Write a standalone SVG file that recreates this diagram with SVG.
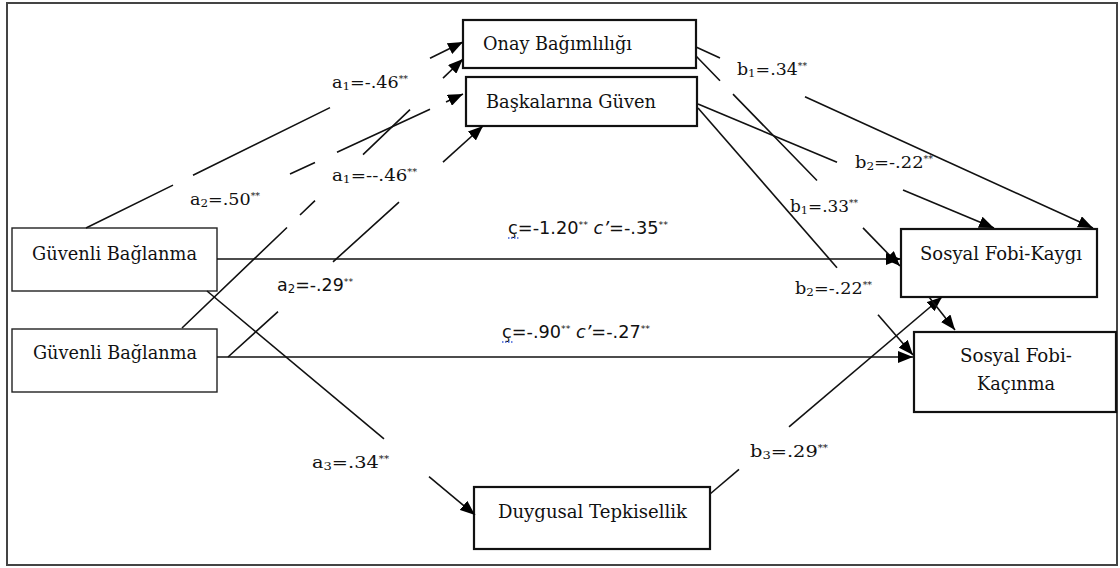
<svg xmlns="http://www.w3.org/2000/svg" width="1120" height="568" viewBox="0 0 1120 568">
<defs>
<marker id="ah" markerUnits="userSpaceOnUse" markerWidth="16" markerHeight="12" refX="15" refY="6" orient="auto"><path d="M0,0 L15,6 L0,12 z" fill="#000"/></marker>
<style>
.frame{fill:#fff;stroke:#444;stroke-width:2}
.box{fill:#fff;stroke:#111;stroke-width:2.2}
.box2{fill:#fff;stroke:#222;stroke-width:1.4}
.ln{stroke:#111;stroke-width:1.6;fill:none}
.ar{marker-end:url(#ah)}
.nt{font-family:"DejaVu Serif",serif;font-size:18.5px;fill:#111}
.lb{font-family:"DejaVu Serif",serif;font-size:17px;fill:#111}
.ls{font-family:"DejaVu Sans",sans-serif;font-size:17px;fill:#111}
.sub{font-size:11.5px}
.sup{font-size:9px}
.sq{stroke:#3b5fd9;stroke-width:1.3;stroke-dasharray:1.5 1.5}
</style>
</defs>
<rect class="frame" x="7" y="3" width="1110" height="562"/>

<g id="node-onay"><rect class="box" x="463" y="20" width="233" height="48"/><text class="nt" x="483" y="50" textLength="149" lengthAdjust="spacingAndGlyphs">Onay Bağımlılığı</text></g>
<g id="node-baskalarina"><rect class="box" x="466" y="77" width="231" height="49"/><text class="nt" x="486" y="108" textLength="170" lengthAdjust="spacingAndGlyphs">Başkalarına Güven</text></g>
<g id="node-guvenli1"><rect class="box2" x="12" y="228" width="205" height="63"/><text class="nt" x="32" y="260" textLength="165" lengthAdjust="spacingAndGlyphs">Güvenli Bağlanma</text></g>
<g id="node-guvenli2"><rect class="box2" x="12" y="329" width="205" height="63"/><text class="nt" x="33" y="359" textLength="164" lengthAdjust="spacingAndGlyphs">Güvenli Bağlanma</text></g>
<g id="node-kaygi"><rect class="box" x="901" y="229" width="196" height="68"/><text class="nt" x="920" y="260" textLength="162" lengthAdjust="spacingAndGlyphs">Sosyal Fobi-Kaygı</text></g>
<g id="node-kacinma"><rect class="box" x="914" y="332" width="202" height="80"/><text class="nt" x="960" y="362" textLength="112" lengthAdjust="spacingAndGlyphs">Sosyal Fobi-</text><text class="nt" x="977" y="390" textLength="78" lengthAdjust="spacingAndGlyphs">Kaçınma</text></g>
<g id="node-duygusal"><rect class="box" x="474" y="487" width="236" height="62"/><text class="nt" x="498" y="518" textLength="189" lengthAdjust="spacingAndGlyphs">Duygusal Tepkisellik</text></g>

<g id="connectors">
<path class="ln" d="M86,228 L173,185.1 M193,175.2 L330,107.6"/>
<path class="ln ar" d="M430,58.3 L463,42"/>
<path class="ln" d="M182,328 L287,227.5 M300,215 L315,200.7 M363,154.7 L410,109.7"/>
<path class="ln ar" d="M443,78.1 L463,59"/>
<path class="ln" d="M290,173.9 L315,162.4 M337,152.2 L430,109.2"/>
<path class="ln ar" d="M446,101.9 L463,94"/>
<path class="ln" d="M228,357 L278,311.7 M333,261.9 L399,202.1"/>
<path class="ln ar" d="M443,162.2 L483,126"/>
<path class="ln" d="M696,47 L720,57.9"/>
<path class="ln ar" d="M805,96.7 L1093,228"/>
<path class="ln" d="M696,56 L720,80.7 M733,94.1 L817,180.5"/>
<path class="ln ar" d="M863,227.9 L900,266"/>
<path class="ln" d="M698,104 L837,162.2"/>
<path class="ln ar" d="M903,189.9 L994,228"/>
<path class="ln" d="M698,108 L837,267.7"/>
<path class="ln ar" d="M878,314.8 L913,355"/>
<path class="ln" d="M710,494 L739,469.4"/>
<path class="ln ar" d="M789,426.9 L942,297"/>
<path class="ln ar" d="M929,297 L955,330"/>
<path class="ln" d="M207,291 L384,438.9"/>
<path class="ln ar" d="M429,476.6 L475,515"/>
<path class="ln ar" d="M217,259 L901,259"/>
<path class="ln ar" d="M217,357 L913,357"/>
</g>

<g id="labels">
<text class="lb" x="332" y="88" textLength="76" lengthAdjust="spacingAndGlyphs">a<tspan class="sub" dy="2">1</tspan><tspan dy="-2">=-.46</tspan><tspan class="sup" dy="-6">**</tspan></text>
<text class="lb" x="190" y="205" textLength="70" lengthAdjust="spacingAndGlyphs">a<tspan class="sub" dy="2">2</tspan><tspan dy="-2">=.50</tspan><tspan class="sup" dy="-6">**</tspan></text>
<text class="lb" x="332" y="181" textLength="85" lengthAdjust="spacingAndGlyphs">a<tspan class="sub" dy="2">1</tspan><tspan dy="-2">=--.46</tspan><tspan class="sup" dy="-6">**</tspan></text>
<text class="ls" x="277" y="291" textLength="76" lengthAdjust="spacingAndGlyphs">a<tspan class="sub" dy="2">2</tspan><tspan dy="-2">=-.29</tspan><tspan class="sup" dy="-6">**</tspan></text>
<text class="lb" x="312" y="468" textLength="77" lengthAdjust="spacingAndGlyphs">a<tspan class="sub" dy="2">3</tspan><tspan dy="-2">=.34</tspan><tspan class="sup" dy="-6">**</tspan></text>
<text class="lb" x="737" y="75" textLength="70" lengthAdjust="spacingAndGlyphs">b<tspan class="sub" dy="2">1</tspan><tspan dy="-2">=.34</tspan><tspan class="sup" dy="-6">**</tspan></text>
<text class="lb" x="855" y="168" textLength="78" lengthAdjust="spacingAndGlyphs">b<tspan class="sub" dy="2">2</tspan><tspan dy="-2">=-.22</tspan><tspan class="sup" dy="-6">**</tspan></text>
<text class="lb" x="790" y="212" textLength="68" lengthAdjust="spacingAndGlyphs">b<tspan class="sub" dy="2">1</tspan><tspan dy="-2">=.33</tspan><tspan class="sup" dy="-6">**</tspan></text>
<text class="lb" x="795" y="294" textLength="77" lengthAdjust="spacingAndGlyphs">b<tspan class="sub" dy="2">2</tspan><tspan dy="-2">=-.22</tspan><tspan class="sup" dy="-6">**</tspan></text>
<text class="lb" x="750" y="457" textLength="78" lengthAdjust="spacingAndGlyphs">b<tspan class="sub" dy="2">3</tspan><tspan dy="-2">=.29</tspan><tspan class="sup" dy="-6">**</tspan></text>
<text class="ls" x="508" y="234" textLength="160" lengthAdjust="spacingAndGlyphs">ç=-1.20<tspan class="sup" dy="-6">**</tspan><tspan dy="6"> </tspan><tspan font-style="italic">c’</tspan>=-.35<tspan class="sup" dy="-6">**</tspan></text>
<line class="sq" x1="508" y1="238" x2="520" y2="238"/>
<text class="ls" x="502" y="338" textLength="148" lengthAdjust="spacingAndGlyphs">ç=-.90<tspan class="sup" dy="-6">**</tspan><tspan dy="6"> </tspan><tspan font-style="italic">c’</tspan>=-.27<tspan class="sup" dy="-6">**</tspan></text>
<line class="sq" x1="502" y1="342" x2="514" y2="342"/>
</g>
</svg>
